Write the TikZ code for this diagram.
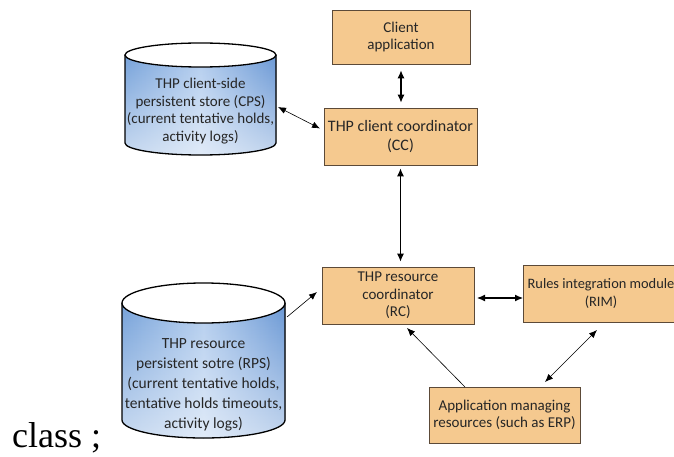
\documentclass[tikz,border=0pt]{standalone}
\usepackage{fontspec}
\setmainfont{Liberation Serif}
\newfontfamily\gsfont{Carlito}
\usetikzlibrary{arrows.meta,fadings}
\definecolor{boxfill}{HTML}{F5C98F}
\definecolor{boxline}{HTML}{5C4A38}
\definecolor{cylL}{HTML}{76A2DA}
\definecolor{cylM}{HTML}{B3CDEE}
\definecolor{cylR}{HTML}{6A98D5}
\begin{document}
\begin{tikzpicture}[x=1pt,y=-1pt,
  box/.style={draw=boxline, fill=boxfill, line width=0.8pt, align=center, inner sep=0pt,
    font=\gsfont\fontsize{15}{17.5}\selectfont, text=black!85},
  cyltext/.style={align=center, inner sep=0pt, text=black!85},
  cylline/.style={draw=black, line width=1.3pt},
  cylshade/.style={left color=cylL, right color=cylR, middle color=cylM},
  cylglow/.style={white, path fading=north, fill opacity=0.6},
  twoway/.style={line width=1.1pt, {Latex[length=8pt,width=7pt]}-{Latex[length=8pt,width=7pt]}},
  thintwo/.style={line width=0.6pt, {Latex[length=8pt,width=6.5pt]}-{Latex[length=8pt,width=6.5pt]}},
  thinone/.style={line width=0.6pt, -{Latex[length=8pt,width=6.5pt]}}
]
\useasboundingbox (0,0) rectangle (674,457);
\clip (0,0) rectangle (674,457);
\fill[white] (0,0) rectangle (674,457);

% boxes
\node[box, minimum width=138pt, minimum height=54pt] (app) at (401,37) {Client\\application};
\node[box, minimum width=153pt, minimum height=57pt, font=\gsfont\fontsize{16}{19}\selectfont] (cc) at (400.5,136.5) {THP client coordinator\\(CC)};
\node[box, minimum width=152pt, minimum height=57pt] (rc) at (398,295.5) {THP resource\\coordinator\\(RC)};
\node[box, minimum width=156pt, minimum height=57pt, font=\gsfont\fontsize{14.4}{17.5}\selectfont] (rim) at (601,293.5) {Rules integration module\\(RIM)};
\node[box, minimum width=151pt, minimum height=56pt] (erp) at (504.5,415) {Application managing\\resources (such as ERP)};

% CPS cylinder
\fill[cylshade]
  (125,55) -- (125,143) arc[start angle=180,end angle=360,x radius=75.5pt,y radius=12pt]
  -- (276,55) arc[start angle=0,end angle=-180,x radius=75.5pt,y radius=12pt] -- cycle;
\fill[cylglow]
  (125,55) -- (125,143) arc[start angle=180,end angle=360,x radius=75.5pt,y radius=12pt]
  -- (276,55) arc[start angle=0,end angle=-180,x radius=75.5pt,y radius=12pt] -- cycle;
\draw[cylline] (125,55) -- (125,143) arc[start angle=180,end angle=360,x radius=75.5pt,y radius=12pt] -- (276,55);
\draw[cylline, fill=white] (200.5,55) ellipse [x radius=75.5pt, y radius=12pt];
\node[cyltext, font=\gsfont\fontsize{15}{17.5}\selectfont] (cps) at (200.5,111)
  {THP client-side\\persistent store (CPS)\\(current tentative holds,\\activity logs)};

% RPS cylinder
\fill[cylshade]
  (122,303) -- (122,420) arc[start angle=180,end angle=360,x radius=81.5pt,y radius=18pt]
  -- (285,303) arc[start angle=0,end angle=-180,x radius=81.5pt,y radius=20pt] -- cycle;
\fill[cylglow]
  (122,303) -- (122,420) arc[start angle=180,end angle=360,x radius=81.5pt,y radius=18pt]
  -- (285,303) arc[start angle=0,end angle=-180,x radius=81.5pt,y radius=20pt] -- cycle;
\draw[cylline] (122,303) -- (122,420) arc[start angle=180,end angle=360,x radius=81.5pt,y radius=18pt] -- (285,303);
\draw[cylline, fill=white] (203.5,303) ellipse [x radius=81.5pt, y radius=20pt];
\node[cyltext, font=\gsfont\fontsize{15.5}{20}\selectfont] (rps) at (203.5,385)
  {THP resource\\persistent sotre (RPS)\\(current tentative holds,\\tentative holds timeouts,\\activity logs)};

% connector end points
\coordinate (cpsE) at (278,107);
\coordinate (ccW) at (320,128.5);
\coordinate (rpsE) at (287,317);
\coordinate (rcW) at (317,292);
\coordinate (rcE) at (477,298);
\coordinate (rimW) at (523,298);
\coordinate (erpTL) at (465,387);
\coordinate (rcB) at (407,328);
\coordinate (erpTR) at (545,382);
\coordinate (rimB) at (597,330);

% connectors
\draw[twoway] ([yshift=-6pt]app.south) -- ([yshift=5pt]app.south |- cc.north);
\draw[twoway] ([yshift=-3pt]cc.south) -- ([yshift=5pt]cc.south |- rc.north);
\draw[thintwo] (cpsE) -- (ccW);
\draw[thinone] (rpsE) -- (rcW);
\draw[twoway] (rcE) -- (rimW);
\draw[thinone] (erpTL) -- (rcB);
\draw[thintwo] (erpTR) -- (rimB);

% stray text
\node[anchor=base west, inner sep=0pt, font=\fontsize{36}{40}\selectfont] (cls) at (12,447) {class ;};
\end{tikzpicture}
\end{document}
